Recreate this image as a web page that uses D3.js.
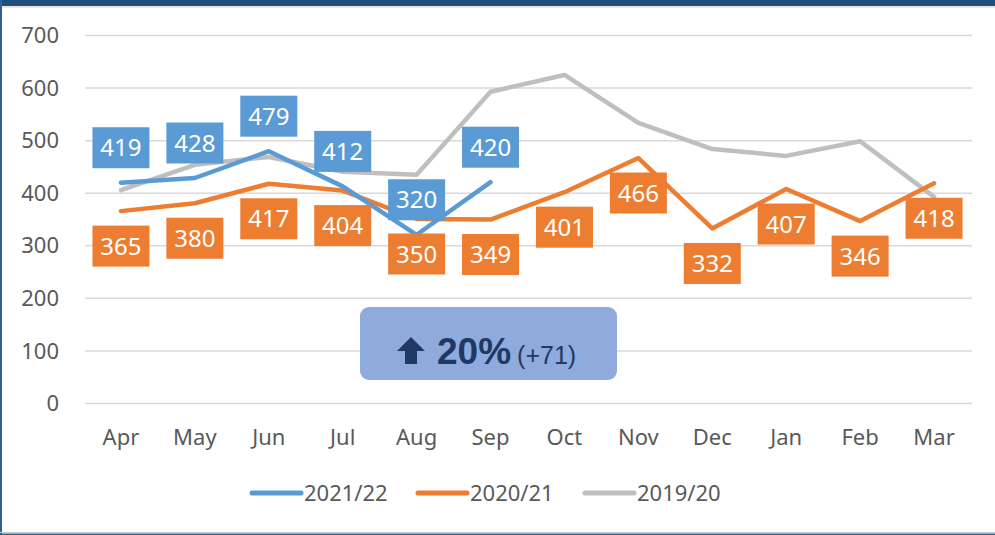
<!DOCTYPE html>
<html>
<head>
<meta charset="utf-8">
<script src="https://cdn.jsdelivr.net/npm/d3@7"></script>
<style>
  body { margin: 0; background: #fff; }
  text { font-family: "Noto Sans", "Open Sans", sans-serif; }
  .callout text { font-family: "Liberation Sans", Arial, sans-serif; }
</style>
</head>
<body>
<svg id="chart" width="995" height="535"></svg>
<script>
/* chart values */
var months = ["Apr", "May", "Jun", "Jul", "Aug", "Sep", "Oct", "Nov", "Dec", "Jan", "Feb", "Mar"];
var yTicks = [0, 100, 200, 300, 400, 500, 600, 700];
var series2122 = [419, 428, 479, 412, 320, 420];
var series2021 = [365, 380, 417, 404, 350, 349, 401, 466, 332, 407, 346, 418];
var series1920 = [405, 453, 468, 440, 434, 592, 624, 533, 483, 470, 498, 392];
var seriesNames = ["2021/22", "2020/21", "2019/20"];

var colors = { "2021/22": "#5B9BD5", "2020/21": "#ED7D31", "2019/20": "#BFBFBF" };
var textColor = "#595959";

var svg = d3.select("#chart");

/* frame */
svg.append("rect").attr("x", 0).attr("y", 0).attr("width", 995).attr("height", 535).attr("fill", "#fff");
svg.append("rect").attr("x", 0).attr("y", 0).attr("width", 995).attr("height", 6).attr("fill", "#1F4E79");
svg.append("line").attr("x1", 0).attr("x2", 995).attr("y1", 7).attr("y2", 7).attr("stroke", "#D0D0D0").attr("stroke-width", 1);
svg.append("rect").attr("x", 0).attr("y", 0).attr("width", 2).attr("height", 535).attr("fill", "#2E6096");
svg.append("line").attr("x1", 0).attr("x2", 995).attr("y1", 532.5).attr("y2", 532.5).attr("stroke", "#C8C8C8").attr("stroke-width", 1);
svg.append("rect").attr("x", 0).attr("y", 533.5).attr("width", 995).attr("height", 1.5).attr("fill", "#2E6096");

/* scales */
var x = d3.scaleBand().domain(months).range([84, 971]);
var y = d3.scaleLinear().domain([0, 700]).range([403, 35]);
var cx = function(m) { return x(m) + x.bandwidth() / 2; };

/* gridlines + y labels */
var yAxis = d3.axisLeft(y)
  .tickValues(yTicks)
  .tickSize(-(971 - 84))
  .tickPadding(26)
  .tickFormat(d3.format("d"));

var gy = svg.append("g").attr("transform", "translate(85,0)").call(yAxis);
gy.select(".domain").remove();
gy.selectAll(".tick line").attr("stroke", "#D9D9D9").attr("stroke-width", 1.5);
gy.selectAll(".tick text").attr("fill", textColor).style("font-size", "22px").attr("dy", "0.35em");

/* x labels */
var xAxis = d3.axisBottom(x).tickSize(0).tickPadding(26);
var gx = svg.append("g").attr("transform", "translate(0,403)").call(xAxis);
gx.select(".domain").remove();
gx.selectAll(".tick text").attr("fill", textColor).style("font-size", "22px");

/* lines */
var line = d3.line()
  .x(function(d, i) { return cx(months[i]); })
  .y(function(d) { return y(d); });

var lines = [
  { name: "2019/20", values: series1920 },
  { name: "2020/21", values: series2021 },
  { name: "2021/22", values: series2122 }
];

svg.append("g").selectAll("path")
  .data(lines)
  .enter().append("path")
  .attr("d", function(d) { return line(d.values); })
  .attr("fill", "none")
  .attr("stroke", function(d) { return colors[d.name]; })
  .attr("stroke-width", 4.5)
  .attr("stroke-linejoin", "round")
  .attr("stroke-linecap", "round");

/* data label boxes: blue above the point, orange below */
var boxW = 57, boxH = 41, boxOff = 35;

function drawLabels(values, name, dir) {
  var g = svg.append("g").selectAll("g")
    .data(values)
    .enter().append("g")
    .attr("transform", function(d, i) {
      return "translate(" + cx(months[i]) + "," + (y(d) + dir * boxOff) + ")";
    });
  g.append("rect")
    .attr("x", -boxW / 2).attr("y", -boxH / 2)
    .attr("width", boxW).attr("height", boxH)
    .attr("fill", colors[name]);
  g.append("text")
    .attr("text-anchor", "middle")
    .attr("dy", "0.36em")
    .attr("fill", "#fff")
    .style("font-size", "24px")
    .text(function(d) { return d; });
}

drawLabels(series2021, "2020/21", 1);
drawLabels(series2122, "2021/22", -1);

/* callout */
var callout = svg.append("g").attr("class", "callout").attr("transform", "translate(360,307)");
callout.append("rect")
  .attr("width", 257).attr("height", 73)
  .attr("rx", 9).attr("ry", 9)
  .attr("fill", "#8FAADC");
callout.append("path")
  .attr("d", "M37,44 L51,30 L65,44 L57,44 L57,57 L45,57 L45,44 Z")
  .attr("fill", "#203864");
var ct = callout.append("text").attr("x", 77).attr("y", 57).attr("fill", "#203864");
ct.append("tspan").style("font-size", "37px").style("font-weight", "bold").text("20%");
ct.append("tspan").style("font-size", "25px").attr("dx", 6).text("(+71)");

/* legend */
var legendX = [250, 416, 583];
var lg = svg.append("g").selectAll("g")
  .data(seriesNames)
  .enter().append("g")
  .attr("transform", function(d, i) { return "translate(" + legendX[i] + ",493)"; });
lg.append("line")
  .attr("x1", 2).attr("x2", 51)
  .attr("stroke", function(d) { return colors[d]; })
  .attr("stroke-width", 5)
  .attr("stroke-linecap", "round");
lg.append("text")
  .attr("x", 54).attr("dy", "0.36em")
  .attr("fill", textColor)
  .style("font-size", "22px")
  .text(function(d) { return d; });
</script>
</body>
</html>
